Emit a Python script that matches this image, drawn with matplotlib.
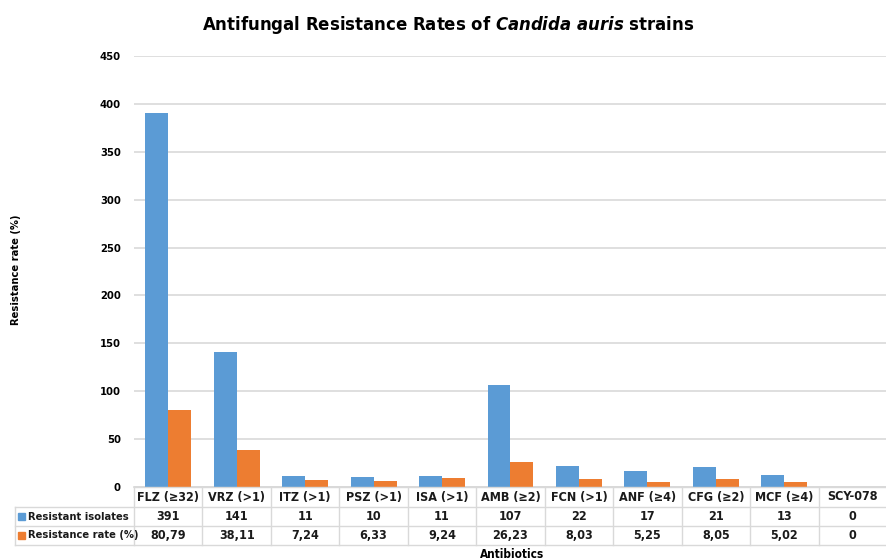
import matplotlib
matplotlib.use("Agg")
import matplotlib.pyplot as plt
import numpy as np
from matplotlib.transforms import blended_transform_factory

categories = ["FLZ (≥32)", "VRZ (>1)", "ITZ (>1)", "PSZ (>1)", "ISA (>1)", "AMB (≥2)",
              "FCN (>1)", "ANF (≥4)", "CFG (≥2)", "MCF (≥4)", "SCY-078"]
resistant_isolates = [391, 141, 11, 10, 11, 107, 22, 17, 21, 13, 0]
resistance_rate = [80.79, 38.11, 7.24, 6.33, 9.24, 26.23, 8.03, 5.25, 8.05, 5.02, 0]
series_names = ["Resistant isolates", "Resistance rate (%)"]

plt.rcParams['font.family'] = ['DejaVu Sans']
plt.rcParams['font.stretch'] = 'condensed'
plt.rcParams['mathtext.fontset'] = 'custom'
plt.rcParams['mathtext.it'] = 'DejaVu Sans:italic:bold'

blue = "#5B9BD5"
orange = "#ED7D31"
grid_c = "#D9D9D9"

W, H = 887, 560
fig = plt.figure(figsize=(W / 100, H / 100), dpi=100)
ax_l, ax_r, ax_b, ax_t = 134, 887, 487, 56
ax = fig.add_axes([ax_l / W, 1 - ax_b / H, (ax_r - ax_l) / W, (ax_b - ax_t) / H])

n = len(categories)
x = np.arange(n)
bw = 0.335
ax.bar(x - bw / 2, resistant_isolates, bw, color=blue, zorder=3)
ax.bar(x + bw / 2, resistance_rate, bw, color=orange, zorder=3)

ax.set_xlim(-0.5, n - 0.5)
ax.set_ylim(0, 450)
ax.set_yticks(np.arange(0, 451, 50))
ax.yaxis.grid(True, color=grid_c, linewidth=1.2, zorder=0)
ax.set_axisbelow(True)
ax.tick_params(axis='y', length=0, labelsize=8, pad=9.5)
for lab in ax.get_yticklabels():
    lab.set_fontweight('bold')
ax.set_xticks([])
for s in ['left', 'right', 'top']:
    ax.spines[s].set_visible(False)
ax.spines['bottom'].set_color(grid_c)
ax.spines['bottom'].set_linewidth(1.2)

def fmt(v):
    if v == 0:
        return "0"
    return f"{v:.2f}".replace('.', ',')

rows = [[str(v) for v in resistant_isolates], [fmt(v) for v in resistance_rate]]

def fy(py):
    return 1 - py / H

row_edges = [487, 507, 526, 545]
tbl_left = 15
trans = blended_transform_factory(ax.transData, fig.transFigure)
lw = 1.0
for b in np.arange(n + 1) - 0.5:
    fig.add_artist(plt.Line2D([b, b], [fy(row_edges[0]), fy(row_edges[-1])], transform=trans,
                              color=grid_c, lw=lw))
for i, ry in enumerate(row_edges):
    x0 = tbl_left / W if i >= 1 else ax_l / W
    fig.add_artist(plt.Line2D([x0, ax_r / W], [fy(ry), fy(ry)], transform=fig.transFigure,
                              color=grid_c, lw=lw))
fig.add_artist(plt.Line2D([tbl_left / W, tbl_left / W], [fy(row_edges[1]), fy(row_edges[-1])],
                          transform=fig.transFigure, color=grid_c, lw=lw))

fs = 9
for j, c in enumerate(categories):
    fig.text(x[j], fy((row_edges[0] + row_edges[1]) / 2), c, transform=trans, ha='center',
             va='center', fontsize=fs, fontweight='bold', color='#1a1a1a')
    for i in range(2):
        fig.text(x[j], fy((row_edges[i + 1] + row_edges[i + 2]) / 2), rows[i][j], transform=trans,
                 ha='center', va='center', fontsize=fs, fontweight='bold', color='#1a1a1a')

for i, (name, col) in enumerate(zip(series_names, [blue, orange])):
    yc = (row_edges[i + 1] + row_edges[i + 2]) / 2
    fig.patches.append(plt.Rectangle(((tbl_left + 3) / W, fy(yc + 3.5)), 7 / W, 7 / H,
                                     transform=fig.transFigure, color=col, figure=fig))
    fig.text((tbl_left + 13) / W, fy(yc), name, ha='left', va='center', fontsize=8,
             fontweight='bold', color='#1a1a1a')

fig.text(448 / W, fy(25), "Antifungal Resistance Rates of $\\it{Candida\\ auris}$ strains",
         ha='center', va='center', fontsize=13.2, fontweight='bold')
fig.text(16 / W, fy(270), "Resistance rate (%)", rotation=90, ha='center', va='center',
         fontsize=8, fontweight='bold')
fig.text(512 / W, fy(555), "Antibiotics", ha='center', va='center', fontsize=8.5, fontweight='bold')

fig.savefig("out.png", dpi=100)
